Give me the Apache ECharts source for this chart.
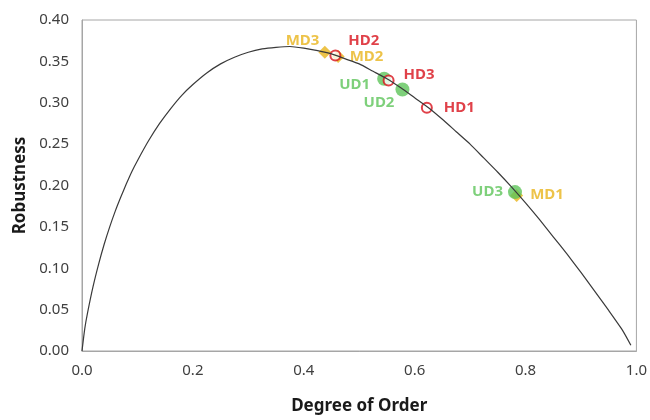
<!DOCTYPE html>
<html>
<head>
<meta charset="utf-8">
<style>
  html, body { margin: 0; padding: 0; background: #fff; }
  #main { width: 650px; height: 420px; }
</style>
</head>
<body>
<div id="main"></div>
<script src="https://cdn.jsdelivr.net/npm/echarts@6/dist/echarts.min.js"></script>
<script>
// curve
var curveX = [0, 0.005, 0.01, 0.02, 0.03, 0.04, 0.05, 0.06, 0.07, 0.08, 0.09, 0.10, 0.12, 0.14, 0.16, 0.18, 0.20, 0.225, 0.25, 0.275, 0.30, 0.325, 0.35, 0.375, 0.40, 0.425, 0.45, 0.475, 0.50, 0.525, 0.55, 0.575, 0.60, 0.625, 0.65, 0.675, 0.70, 0.725, 0.75, 0.775, 0.80, 0.825, 0.85, 0.875, 0.90, 0.925, 0.95, 0.975, 0.99];
var curveY = [0, 0.027, 0.046, 0.078, 0.105, 0.129, 0.150, 0.169, 0.186, 0.202, 0.217, 0.230, 0.254, 0.275, 0.293, 0.309, 0.322, 0.336, 0.347, 0.355, 0.361, 0.365, 0.367, 0.368, 0.366, 0.363, 0.359, 0.353, 0.347, 0.338, 0.329, 0.318, 0.306, 0.294, 0.280, 0.265, 0.250, 0.233, 0.216, 0.198, 0.179, 0.159, 0.138, 0.117, 0.095, 0.072, 0.049, 0.025, 0.007];

// points
var udNames = ['UD1', 'UD2', 'UD3'];
var udX = [0.545, 0.578, 0.781];
var udY = [0.329, 0.316, 0.192];

var mdNames = ['MD1', 'MD2', 'MD3'];
var mdX = [0.784, 0.462, 0.438];
var mdY = [0.188, 0.356, 0.361];

var hdNames = ['HD1', 'HD2', 'HD3'];
var hdX = [0.622, 0.457, 0.553];
var hdY = [0.294, 0.357, 0.327];

var GREEN = '#5ec45a', GOLD = '#e8b41c', RED = '#d8121c';

// where each label sits relative to its marker
var labelPos = {
  UD1: { position: 'left', offset: [-2, 6] },
  UD2: { position: 'left', offset: [4, 13] },
  UD3: { position: 'left', offset: [0, 0] },
  MD1: { position: 'right', offset: [2, -1] },
  MD2: { position: 'right', offset: [0, 0] },
  MD3: { position: 'left', offset: [6, -12] },
  HD1: { position: 'right', offset: [6, 0] },
  HD2: { position: 'right', offset: [2, -15] },
  HD3: { position: 'right', offset: [4, -6] }
};

function pts(names, xs, ys, color) {
  return names.map(function (n, i) {
    var p = labelPos[n];
    return {
      name: n,
      value: [xs[i], ys[i]],
      label: { show: true, formatter: n, position: p.position, offset: p.offset,
               color: color, fontSize: 15, fontWeight: 'bold', fontFamily: 'Noto Sans' }
    };
  });
}

var myChart = echarts.init(document.getElementById('main'));

var axisFont = { color: '#404040', fontSize: 15, fontFamily: 'Noto Sans' };

option = {
  animation: false,
  grid: { left: 82, right: 7, top: 20, bottom: 67, show: true, borderColor: '#a6a6a6', borderWidth: 1 },
  xAxis: {
    type: 'value', min: 0, max: 1, interval: 0.2,
    name: 'Degree of Order', nameLocation: 'middle', nameGap: 47,
    nameTextStyle: { color: '#1a1a1a', fontSize: 17, fontWeight: 'bold', fontFamily: 'Noto Sans' },
    axisLine: { show: true, lineStyle: { color: '#a6a6a6' } },
    axisTick: { show: false },
    splitLine: { show: false },
    axisLabel: Object.assign({ margin: 12, formatter: function (v) { return v.toFixed(1); } }, axisFont)
  },
  yAxis: {
    type: 'value', min: 0, max: 0.4, interval: 0.05,
    name: 'Robustness', nameLocation: 'middle', nameGap: 48,
    nameTextStyle: { color: '#1a1a1a', fontSize: 17, fontWeight: 'bold', fontFamily: 'Noto Sans' },
    axisLine: { show: true, lineStyle: { color: '#a6a6a6' } },
    axisTick: { show: false },
    splitLine: { show: false },
    axisLabel: Object.assign({ margin: 13, formatter: function (v) { return v.toFixed(2); } }, axisFont)
  },
  series: [
    {
      type: 'scatter', z: 2,
      symbol: 'diamond', symbolSize: 13,
      itemStyle: { color: GOLD },
      data: pts(mdNames, mdX, mdY, GOLD)
    },
    {
      type: 'scatter', z: 3,
      symbol: 'circle', symbolSize: 14,
      itemStyle: { color: GREEN },
      data: pts(udNames, udX, udY, GREEN)
    },
    {
      type: 'scatter', z: 4,
      symbol: 'circle', symbolSize: 10,
      itemStyle: { color: '#fff', borderColor: RED, borderWidth: 2 },
      data: pts(hdNames, hdX, hdY, RED)
    },
    {
      type: 'line', z: 5, smooth: 0.2,
      showSymbol: false,
      lineStyle: { color: '#3a3a3a', width: 1.2 },
      data: curveX.map(function (x, i) { return [x, curveY[i]]; })
    }
  ]
};

myChart.setOption(option);
</script>
</body>
</html>
